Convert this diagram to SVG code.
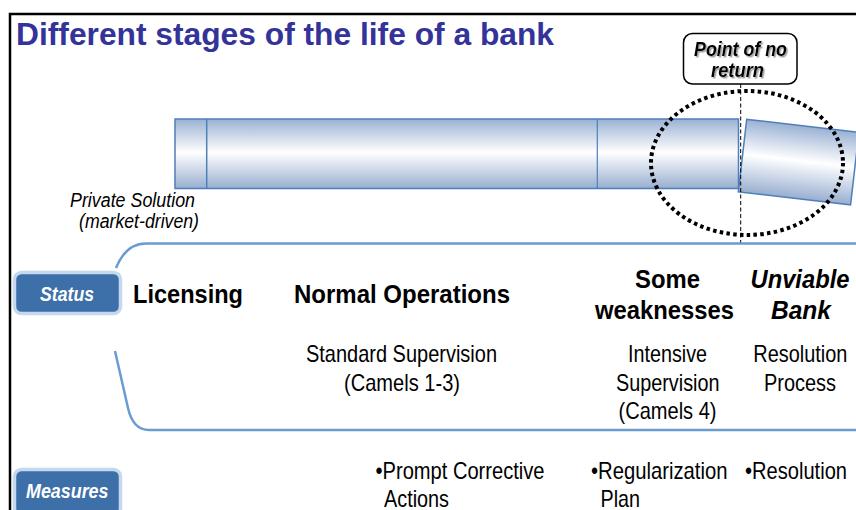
<svg xmlns="http://www.w3.org/2000/svg" width="856" height="510" viewBox="0 0 856 510">
<defs>
<linearGradient id="tube" x1="0" y1="0" x2="0" y2="1">
<stop offset="0" stop-color="#9ab1d3"/>
<stop offset="0.48" stop-color="#ffffff"/>
<stop offset="1" stop-color="#98aed0"/>
</linearGradient>
<filter id="shadow" x="-10%" y="-20%" width="130%" height="150%">
<feDropShadow dx="1.5" dy="1.5" stdDeviation="0.6" flood-color="#8a8a8a" flood-opacity="0.8"/>
</filter>
</defs>
<style>
text{font-family:"Liberation Sans",Arial,sans-serif;fill:#000}
.title{font-size:31px;font-weight:bold;fill:#333399}
.lbl{font-size:26px;font-weight:bold}
.body{font-size:24px}
.tag{font-size:20px;font-weight:bold;font-style:italic;fill:#fff}
.tube{fill:url(#tube);stroke:#4f7fba;stroke-width:1.5}
.bracket{fill:none;stroke:#6a9bd2;stroke-width:2.5}
.tagbox{fill:#3d6fa9;stroke:#c5d8ee;stroke-width:3.5}
</style>
<rect x="0" y="0" width="856" height="510" fill="#fff"/>
<rect x="10" y="14" width="900" height="600" fill="none" stroke="#000" stroke-width="2.5"/>
<text class="title" x="16" y="45" textLength="538" lengthAdjust="spacingAndGlyphs">Different stages of the life of a bank</text>

<g id="tube-main">
<rect class="tube" x="175" y="119" width="563.5" height="69.5"/>
<line x1="206.7" y1="119" x2="206.7" y2="188.5" stroke="#4f7fba" stroke-width="1.5"/>
<line x1="597.3" y1="119" x2="597.3" y2="188.5" stroke="#4f7fba" stroke-width="1.2"/>
</g>
<g id="tube-broken">
<rect class="tube" x="0" y="0" width="113" height="73" transform="translate(746.7,119.3) rotate(6.6)"/>
</g>

<g id="connectors">
<line x1="740.7" y1="84" x2="740.7" y2="243" stroke="#000" stroke-width="1" stroke-dasharray="4 2.5"/>
<path class="bracket" d="M116,268 Q126,243.5 146,243.5 H856"/>
<path class="bracket" d="M115,351 L128,408 Q133,430 149,430 H856"/>
</g>

<g id="point-of-no-return-circle">
<ellipse cx="747" cy="163" rx="96" ry="72" fill="none" stroke="#000" stroke-width="4" stroke-dasharray="3.5 3.3"/>
</g>

<g id="point-of-no-return">
<rect x="683.5" y="33.5" width="113.5" height="50.5" rx="9" fill="#fff" stroke="#000" stroke-width="1.5"/>
<g filter="url(#shadow)">
<text x="694" y="56" font-size="21" font-weight="bold" font-style="italic" textLength="93" lengthAdjust="spacingAndGlyphs">Point of no</text>
<text x="711" y="77" font-size="21" font-weight="bold" font-style="italic" textLength="53" lengthAdjust="spacingAndGlyphs">return</text>
</g>
</g>

<g id="private-solution">
<text x="70" y="207" font-size="20" font-style="italic" textLength="125" lengthAdjust="spacingAndGlyphs" fill="#222">Private Solution</text>
<text x="79" y="228" font-size="20" font-style="italic" textLength="120" lengthAdjust="spacingAndGlyphs" fill="#222">(market-driven)</text>
</g>

<g id="status">
<rect class="tagbox" x="14.5" y="272.5" width="106" height="41" rx="7"/>
<text class="tag" x="40" y="300.5" textLength="54" lengthAdjust="spacingAndGlyphs">Status</text>
</g>
<g id="measures">
<rect class="tagbox" x="14.5" y="469.5" width="106" height="46" rx="7"/>
<text class="tag" x="26" y="498" textLength="82.5" lengthAdjust="spacingAndGlyphs">Measures</text>
</g>

<g id="licensing">
<text class="lbl" x="133" y="303" textLength="110" lengthAdjust="spacingAndGlyphs">Licensing</text>
</g>

<g id="normal-operations">
<text class="lbl" x="294" y="303" textLength="216" lengthAdjust="spacingAndGlyphs">Normal Operations</text>
<text class="body" x="306" y="361.5" textLength="191" lengthAdjust="spacingAndGlyphs">Standard Supervision</text>
<text class="body" x="344" y="390.5" textLength="116" lengthAdjust="spacingAndGlyphs">(Camels 1-3)</text>
<text class="body" x="375.5" y="479" textLength="169" lengthAdjust="spacingAndGlyphs">•Prompt Corrective</text>
<text class="body" x="384" y="506.5" textLength="65" lengthAdjust="spacingAndGlyphs">Actions</text>
</g>

<g id="some-weaknesses">
<text class="lbl" x="635" y="287.5" textLength="65" lengthAdjust="spacingAndGlyphs">Some</text>
<text class="lbl" x="595" y="319" textLength="139" lengthAdjust="spacingAndGlyphs">weaknesses</text>
<text class="body" x="628" y="361.5" textLength="79" lengthAdjust="spacingAndGlyphs">Intensive</text>
<text class="body" x="616" y="390.5" textLength="103.5" lengthAdjust="spacingAndGlyphs">Supervision</text>
<text class="body" x="618.5" y="419" textLength="98" lengthAdjust="spacingAndGlyphs">(Camels 4)</text>
<text class="body" x="591" y="479" textLength="136.5" lengthAdjust="spacingAndGlyphs">•Regularization</text>
<text class="body" x="600.5" y="506.5" textLength="39.5" lengthAdjust="spacingAndGlyphs">Plan</text>
</g>

<g id="unviable-bank">
<text class="lbl" x="750.5" y="287.5" font-style="italic" textLength="99" lengthAdjust="spacingAndGlyphs">Unviable</text>
<text class="lbl" x="771" y="319" font-style="italic" textLength="60" lengthAdjust="spacingAndGlyphs">Bank</text>
<text class="body" x="753.3" y="361.5" textLength="94" lengthAdjust="spacingAndGlyphs">Resolution</text>
<text class="body" x="764" y="390.5" textLength="72" lengthAdjust="spacingAndGlyphs">Process</text>
<text class="body" x="745" y="479" textLength="102" lengthAdjust="spacingAndGlyphs">•Resolution</text>
</g>
</svg>
